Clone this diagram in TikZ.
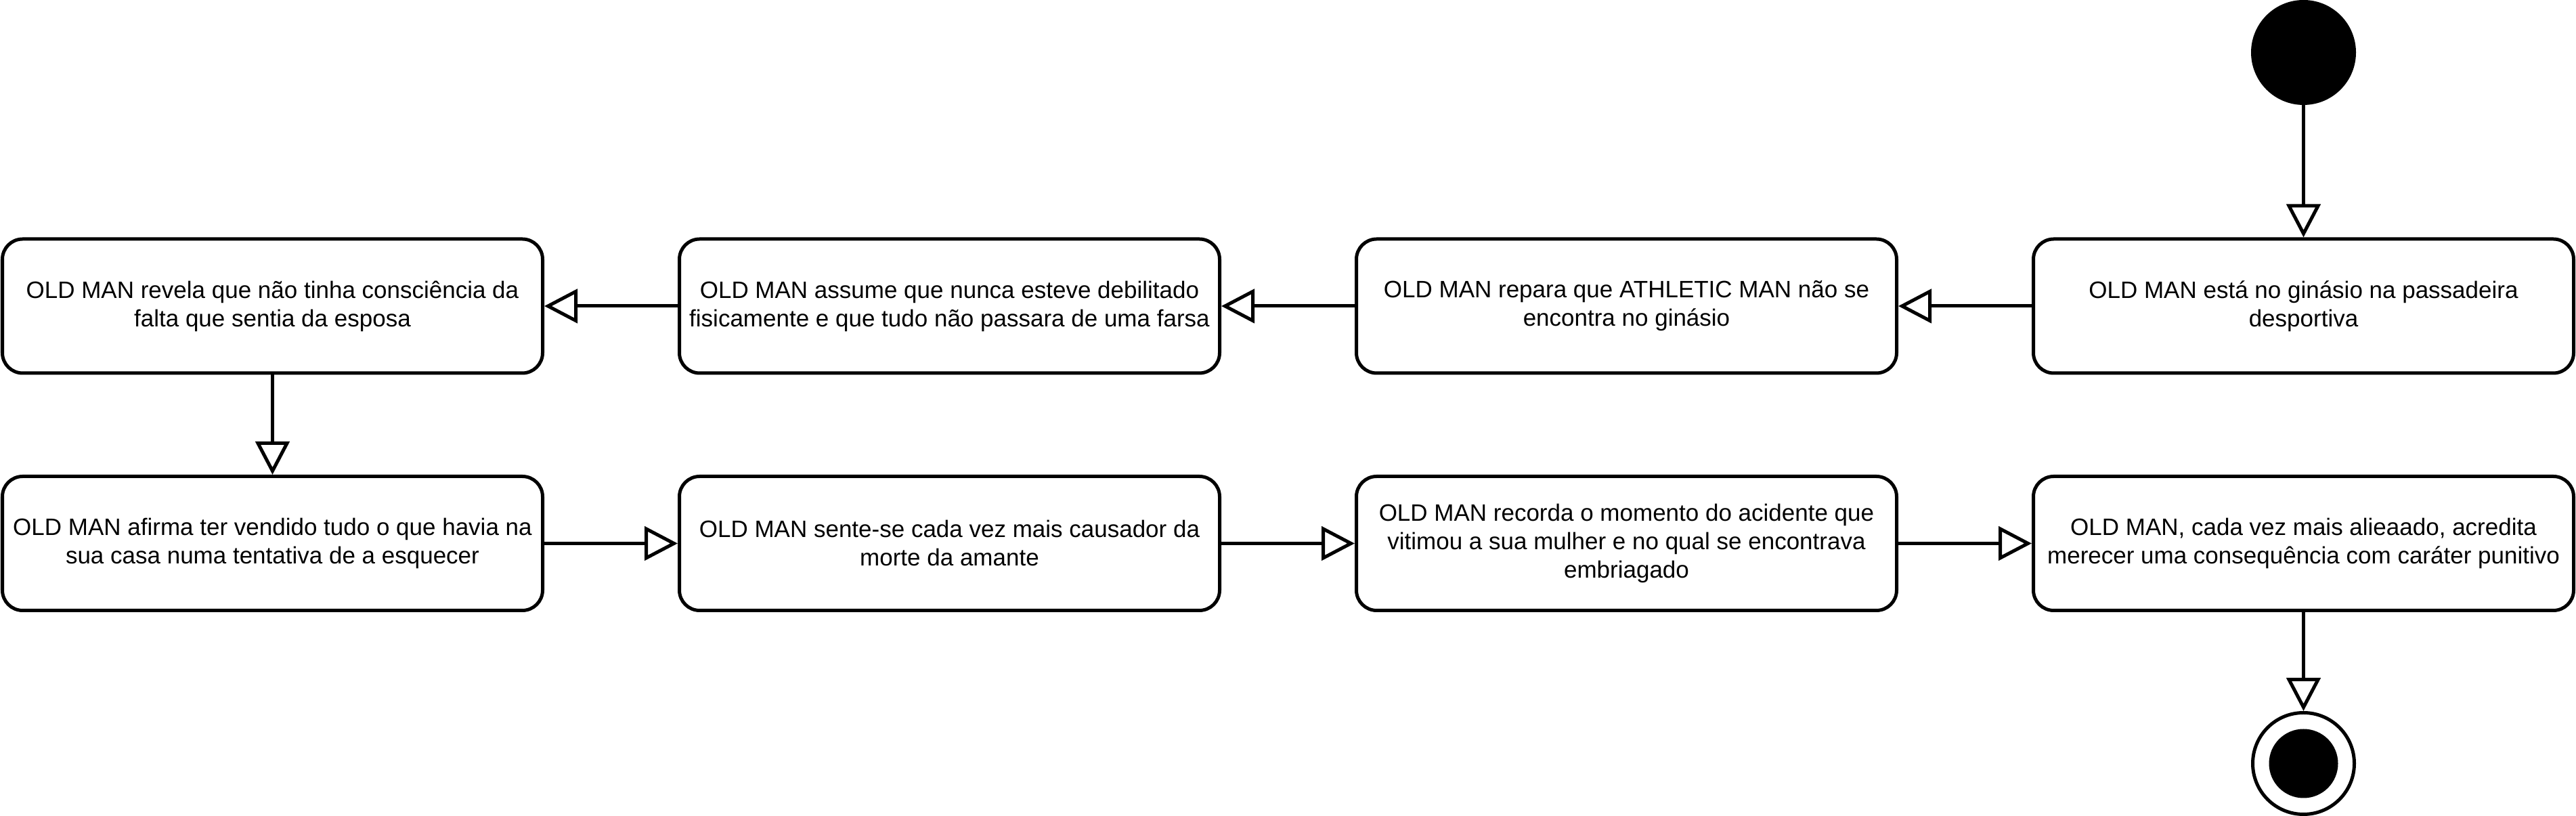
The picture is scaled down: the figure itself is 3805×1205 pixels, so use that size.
\documentclass[tikz,border=0pt]{standalone}
\usepackage{fontspec}
\setmainfont{Liberation Sans}
\usetikzlibrary{arrows.meta}
\begin{document}
\begin{tikzpicture}[x=0.25pt,y=-0.25pt,
  act/.style={draw=black, line width=1.25pt, rounded corners=7.5pt, fill=white,
    minimum width=199.5pt, minimum height=49.5pt, align=center, inner sep=0pt,
    font=\fontsize{8.75pt}{10.5pt}\selectfont},
  startnode/.style={circle, draw=black, fill=black, line width=1.25pt, minimum size=37.5pt, inner sep=0pt},
  endouter/.style={circle, draw=black, fill=white, line width=1.25pt, minimum size=37.5pt, inner sep=0pt},
  endinner/.style={circle, fill=black, minimum size=25.5pt, inner sep=0pt},
  flow/.style={draw=black, line width=1.25pt, -{Triangle[open, length=12.25pt, width=12.5pt]}}]
\useasboundingbox (0,0) rectangle (3805,1205);

\node[startnode] (start) at (3402.5,77.5) {};

\node[act] (b1) at (3402.5,452) {OLD MAN está no ginásio na passadeira\\desportiva};
\node[act] (b2) at (2402.5,452) {OLD MAN repara que ATHLETIC MAN não se\\encontra no ginásio};
\node[act] (b3) at (1402.5,452) {OLD MAN assume que nunca esteve debilitado\\fisicamente e que tudo não passara de uma farsa};
\node[act] (b4) at (402.5,452) {OLD MAN revela que não tinha consciência da\\falta que sentia da esposa};

\node[act] (c1) at (402.5,802.5) {OLD MAN afirma ter vendido tudo o que havia na\\sua casa numa tentativa de a esquecer};
\node[act] (c2) at (1402.5,802.5) {OLD MAN sente-se cada vez mais causador da\\morte da amante};
\node[act] (c3) at (2402.5,802.5) {OLD MAN recorda o momento do acidente que\\vitimou a sua mulher e no qual se encontrava\\embriagado};
\node[act] (c4) at (3402.5,802.5) {OLD MAN, cada vez mais alieaado, acredita\\merecer uma consequência com caráter punitivo};

\node[endouter] (end) at (3402.5,1127.5) {};
\node[endinner] (endin) at (end.center) {};

\draw[flow] (start) -- (b1);
\draw[flow] (b1) -- (b2);
\draw[flow] (b2) -- (b3);
\draw[flow] (b3) -- (b4);
\draw[flow] (b4) -- (c1);
\draw[flow] (c1) -- (c2);
\draw[flow] (c2) -- (c3);
\draw[flow] (c3) -- (c4);
\draw[flow] (c4) -- (end);
\end{tikzpicture}
\end{document}
